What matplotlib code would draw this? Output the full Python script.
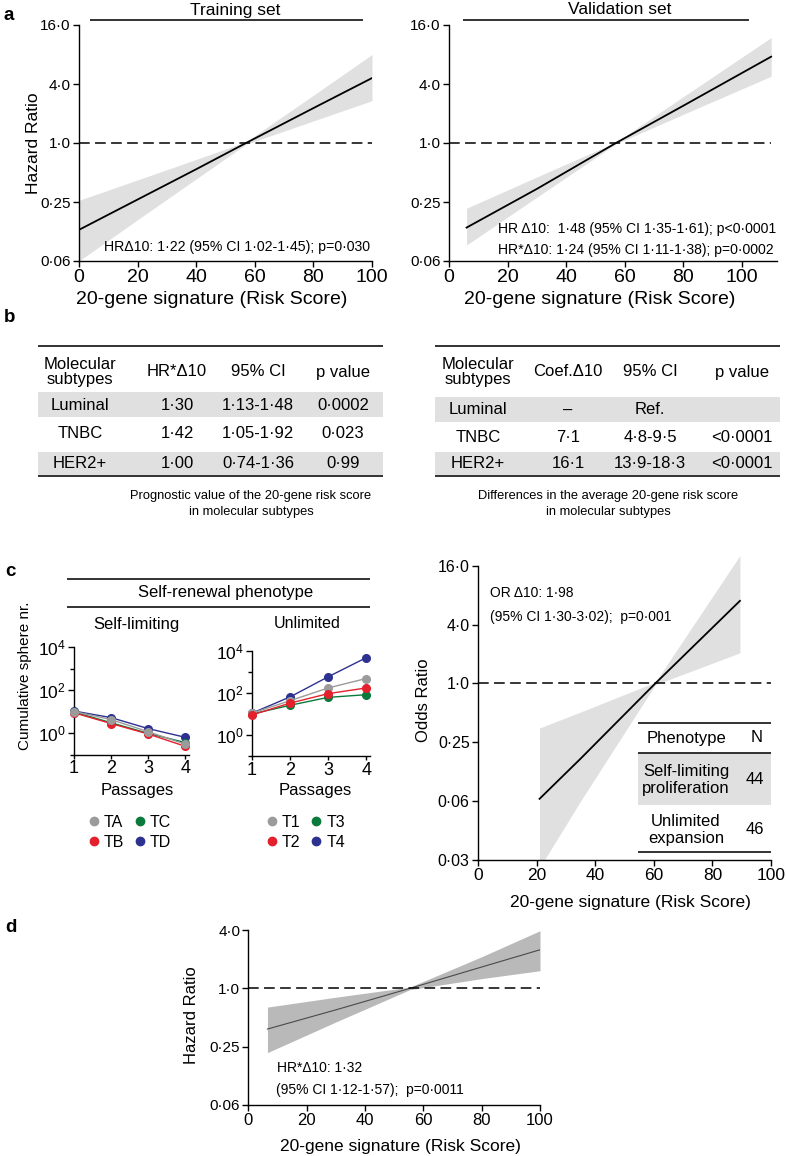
import numpy as np
import matplotlib.pyplot as plt
from matplotlib.lines import Line2D
from matplotlib.patches import Rectangle
from matplotlib.ticker import NullLocator

plt.rcParams['font.family'] = ['Liberation Sans', 'DejaVu Sans']
plt.rcParams['mathtext.fontset'] = 'custom'
plt.rcParams['mathtext.rm'] = 'Liberation Sans'
plt.rcParams['mathtext.default'] = 'regular'
plt.rcParams['axes.linewidth'] = 1.0

# --- data: panel a ---
train_x = [0, 20, 40, 57, 80, 100]
train_hr = [0.13, 0.265, 0.54, 1.0, 2.27, 4.6]
train_lo = [0.0625, 0.165, 0.43, 0.97, 1.68, 2.7]
train_hi = [0.26, 0.42, 0.68, 1.03, 3.07, 8.0]

val_x = [6, 30, 57, 80, 110]
val_hr = [0.137, 0.34, 1.0, 2.4, 7.6]
val_lo = [0.091, 0.28, 0.98, 1.96, 4.8]
val_hi = [0.216, 0.45, 1.02, 2.97, 11.9]

hr_ticks = [0.0625, 0.25, 1.0, 4.0, 16.0]
hr_ticklabels = ['0·06', '0·25', '1·0', '4·0', '16·0']
score_ticks = [0, 20, 40, 60, 80, 100]

# --- data: panel b ---
subtypes = ['Luminal', 'TNBC', 'HER2+']
prog_cols = ['Molecular\nsubtypes', 'HR*Δ10', '95% CI', 'p value']
prog_hr = ['1·30', '1·42', '1·00']
prog_ci = ['1·13-1·48', '1·05-1·92', '0·74-1·36']
prog_p = ['0·0002', '0·023', '0·99']
diff_cols = ['Molecular\nsubtypes', 'Coef.Δ10', '95% CI', 'p value']
diff_coef = ['–', '7·1', '16·1']
diff_ci = ['Ref.', '4·8-9·5', '13·9-18·3']
diff_p = ['', '<0·0001', '<0·0001']

# --- data: panel c ---
passages = [1, 2, 3, 4]
selflim = {
    'TD': [10.5, 5.2, 1.6, 0.63],
    'TC': [9.5, 3.0, 0.96, 0.36],
    'TB': [8.7, 2.75, 0.9, 0.24],
    'TA': [10.0, 4.2, 1.15, 0.30],
}
unlim = {
    'T4': [11.0, 65.0, 590.0, 4800.0],
    'T3': [10.0, 26.0, 62.0, 83.0],
    'T1': [11.0, 43.0, 174.0, 490.0],
    'T2': [9.0, 33.0, 93.0, 174.0],
}
line_colors = {'TA': '#9b9b9b', 'TB': '#e3202c', 'TC': '#0a7a3c', 'TD': '#2d3190',
               'T1': '#9b9b9b', 'T2': '#e3202c', 'T3': '#0a7a3c', 'T4': '#2d3190'}

or_x = [21, 35, 60.5, 89.4]
or_est = [0.066, 0.17, 1.0, 7.0]
or_lo = [0.013, 0.0625, 0.97, 2.06]
or_hi = [0.35, 0.51, 1.03, 20.4]
or_ticks = [2 ** -6, 0.0625, 0.25, 1.0, 4.0, 16.0]
or_ticklabels = ['0·03', '0·06', '0·25', '1·0', '4·0', '16·0']
pheno_names = ['Self-limiting\nproliferation', 'Unlimited\nexpansion']
pheno_n = [44, 46]

# --- data: panel d ---
d_x = [6.5, 30, 55.4, 80, 100]
d_hr = [0.38, 0.60, 1.0, 1.66, 2.5]
d_lo = [0.217, 0.45, 0.97, 1.26, 1.52]
d_hi = [0.64, 0.81, 1.03, 2.12, 3.93]
d_ticks = [0.0625, 0.25, 1.0, 4.0]
d_ticklabels = ['0·06', '0·25', '1·0', '4·0']

W, H = 786, 1156
fig = plt.figure(figsize=(W / 100, H / 100), dpi=100)


def add_ax(l, t, r, b, **kw):
    ax = fig.add_axes([l / W, 1 - b / H, (r - l) / W, (b - t) / H], **kw)
    ax._box = (l, t, r, b)
    return ax


def pos(ax, x, y):
    l, t, r, b = ax._box
    return (x - l) / (r - l), (b - y) / (b - t)


def style(ax, size):
    for s in ['top', 'right']:
        ax.spines[s].set_visible(False)
    ax.tick_params(direction='out', length=4, width=1.0, labelsize=size, pad=2)


def log2_axis(ax, ticks, labels, size):
    ax.set_yscale('log', base=2)
    ax.set_yticks(ticks)
    ax.set_yticklabels(labels, fontsize=size)
    ax.yaxis.set_minor_locator(NullLocator())


def set_labels(ax, xl, xpos, yl, ypos, xs, ys):
    ax.set_xlabel(xl, fontsize=xs)
    ax.xaxis.set_label_coords(*pos(ax, *xpos))
    ax.xaxis.label.set_va('center')
    ax.set_ylabel(yl, fontsize=ys)
    ax.yaxis.set_label_coords(*pos(ax, *ypos))
    ax.yaxis.label.set_va('center')


DASH = (0, (7, 3.5))
BAND = '#e0e0e0'

# ---------------- panel a ----------------
ax_tr = add_ax(79, 25, 372, 261)
ax_tr.fill_between(train_x, train_lo, train_hi, color=BAND, lw=0)
ax_tr.plot(train_x, train_hr, color='k', lw=1.3)
ax_tr.axhline(1.0, color='k', lw=1.1, ls=DASH)
log2_axis(ax_tr, hr_ticks, hr_ticklabels, 11)
ax_tr.set_ylim(0.0625, 16)
ax_tr.set_xlim(0, 100)
ax_tr.set_xticks(score_ticks)
style(ax_tr, 11)
ax_tr.tick_params(axis='x', labelsize=14)
set_labels(ax_tr, '20-gene signature (Risk Score)', (212, 300),
           'Hazard Ratio', (33, 143), 14, 12.5)
ax_tr.text(*pos(ax_tr, 370, 247), 'HRΔ10: 1·22 (95% CI 1·02-1·45); p=0·030',
           transform=ax_tr.transAxes, ha='right', va='center', fontsize=10.2)

ax_va = add_ax(449, 25, 777, 261)
ax_va.fill_between(val_x, val_lo, val_hi, color=BAND, lw=0)
ax_va.plot(val_x, val_hr, color='k', lw=1.3)
ax_va.hlines(1.0, 0, 110, color='k', lw=1.1, ls=DASH)
log2_axis(ax_va, hr_ticks, hr_ticklabels, 11)
ax_va.set_ylim(0.0625, 16)
ax_va.set_xlim(0, 112)
ax_va.set_xticks(score_ticks)
style(ax_va, 11)
ax_va.tick_params(axis='x', labelsize=14)
ax_va.set_xlabel('20-gene signature (Risk Score)', fontsize=14)
ax_va.xaxis.set_label_coords(*pos(ax_va, 600, 300))
ax_va.xaxis.label.set_va('center')
ax_va.text(*pos(ax_va, 498, 229), 'HR Δ10:  1·48 (95% CI 1·35-1·61); p<0·0001',
           transform=ax_va.transAxes, ha='left', va='center', fontsize=10.1)
ax_va.text(*pos(ax_va, 498, 250), 'HR*Δ10: 1·24 (95% CI 1·11-1·38); p=0·0002',
           transform=ax_va.transAxes, ha='left', va='center', fontsize=10.1)


# ---------------- panel c: sphere curves ----------------
def sphere_axes(box, series):
    ax = add_ax(*box)
    for name, vals in series.items():
        ax.plot(passages, vals, color=line_colors[name], lw=1.0, marker='o',
                ms=5.5, mec=line_colors[name], clip_on=False, zorder=3)
    ax.set_yscale('log')
    ax.set_ylim(0.1, 1e4)
    ax.set_yticks([1, 1e2, 1e4])
    ax.set_yticklabels(['$10^{0}$', '$10^{2}$', '$10^{4}$'])
    ax.set_yticks([1e-1, 1e1, 1e3], minor=True)
    ax.yaxis.set_minor_formatter(plt.NullFormatter())
    ax.set_xlim(1, 4.1)
    ax.set_xticks(passages)
    style(ax, 12.5)
    ax.tick_params(axis='x', labelsize=13, length=3, pad=1)
    ax.tick_params(which='minor', direction='out', length=3, width=1.0)
    ax.set_xlabel('Passages', fontsize=12)
    ax.xaxis.label.set_va('center')
    return ax


ax_sl = sphere_axes((74, 647, 189, 754.5), selflim)
ax_sl.xaxis.set_label_coords(*pos(ax_sl, 137, 790))
ax_sl.set_ylabel('Cumulative sphere nr.', fontsize=11)
ax_sl.yaxis.set_label_coords(*pos(ax_sl, 25, 676))
ax_sl.yaxis.label.set_va('center')

ax_ul = sphere_axes((252, 651, 370, 756), unlim)
ax_ul.xaxis.set_label_coords(*pos(ax_ul, 315, 790))


def dot_legend(ax, names, x_px, y_px):
    handles = [Line2D([], [], ls='none', marker='o', ms=6, color=line_colors[n]) for n in names]
    ax.legend(handles, names, ncol=2, loc='upper left', frameon=False,
              bbox_to_anchor=(x_px / W, 1 - y_px / H), bbox_transform=fig.transFigure,
              fontsize=11.5, handlelength=0.7, handletextpad=0.3, columnspacing=0.6,
              labelspacing=0.3, borderpad=0, borderaxespad=0)


dot_legend(ax_sl, ['TA', 'TB', 'TC', 'TD'], 88, 815)
dot_legend(ax_ul, ['T1', 'T2', 'T3', 'T4'], 266, 815)

# ---------------- panel c: odds ratio ----------------
ax_or = add_ax(478, 554, 771, 860)
ax_or.fill_between(or_x, or_lo, or_hi, color=BAND, lw=0)
ax_or.plot(or_x, or_est, color='k', lw=1.3)
ax_or.axhline(1.0, color='k', lw=1.1, ls=DASH)
log2_axis(ax_or, or_ticks, or_ticklabels, 11.5)
ax_or.set_ylim(2 ** -6, 2 ** 4.4)
ax_or.spines['left'].set_bounds(2 ** -6, 16)
ax_or.set_xlim(0, 100)
ax_or.set_xticks(score_ticks)
style(ax_or, 11.5)
ax_or.tick_params(axis='x', labelsize=12.5)
set_labels(ax_or, '20-gene signature (Risk Score)', (630, 903),
           'Odds Ratio', (423, 700), 12.5, 12)
ax_or.text(*pos(ax_or, 490, 593), 'OR Δ10: 1·98', transform=ax_or.transAxes,
           ha='left', va='center', fontsize=10)
ax_or.text(*pos(ax_or, 490, 617), '(95% CI 1·30-3·02);  p=0·001', transform=ax_or.transAxes,
           ha='left', va='center', fontsize=10)

# ---------------- panel d ----------------
ax_d = add_ax(248.5, 930, 540, 1105)
ax_d.fill_between(d_x, d_lo, d_hi, color='#b9b9b9', lw=0)
ax_d.plot(d_x, d_hr, color='#4a4a4a', lw=0.8)
ax_d.axhline(1.0, color='k', lw=1.1, ls=DASH)
log2_axis(ax_d, d_ticks, d_ticklabels, 11)
ax_d.set_ylim(0.0625, 4)
ax_d.set_xlim(0, 100)
ax_d.set_xticks(score_ticks)
style(ax_d, 11)
ax_d.tick_params(axis='x', labelsize=12)
set_labels(ax_d, '20-gene signature (Risk Score)', (400, 1147),
           'Hazard Ratio', (192, 1015), 12.5, 12)
ax_d.text(*pos(ax_d, 277, 1068), 'HR*Δ10: 1·32', transform=ax_d.transAxes,
          ha='left', va='center', fontsize=10)
ax_d.text(*pos(ax_d, 276, 1090), '(95% CI 1·12-1·57);  p=0·0011', transform=ax_d.transAxes,
          ha='left', va='center', fontsize=10)

# ---------------- overlay: titles, tables, panel letters ----------------
cv = add_ax(0, 0, W, H, zorder=10)
cv.set_xlim(0, W)
cv.set_ylim(H, 0)
cv.axis('off')
cv.patch.set_alpha(0)


def rule(x0, x1, y, lw=1.3):
    cv.plot([x0, x1], [y, y], color='#222222', lw=lw, solid_capstyle='butt')


def band(x0, x1, y0, y1):
    cv.add_patch(Rectangle((x0, y0), x1 - x0, y1 - y0, color=BAND, lw=0, zorder=0))


for lab, (x, y) in zip('abcd', [(4, 15), (4, 318), (5, 571), (5, 927)]):
    cv.text(x, y, lab, fontsize=13.5, fontweight='bold', va='center', ha='left')

cv.text(235, 14.5, 'Training set', fontsize=12.5, ha='center', va='baseline')
rule(90, 363, 20)
cv.text(620, 14.5, 'Validation set', fontsize=12.5, ha='center', va='baseline')
rule(463, 749, 20)


def table(x0, x1, cols, colx, bands, rows_y, cells, caption, capx):
    rule(x0, x1, 346)
    for (ya, yb) in bands:
        band(x0, x1, ya, yb)
    for txt, cx in zip(cols, colx):
        cv.text(cx, 372, txt, fontsize=12, ha='center', va='center', linespacing=1.0)
    for j, col in enumerate(cells):
        for i, txt in enumerate(col):
            cv.text(colx[j], rows_y[i], txt, fontsize=12, ha='center', va='center')
    rule(x0, x1, 476)
    cv.text(capx, 504, caption, fontsize=9.3, ha='center', va='center', linespacing=1.4)


table(38, 383, prog_cols, [80, 177, 258, 343], [(392, 417), (452, 475)],
      [405, 434, 463], [subtypes, prog_hr, prog_ci, prog_p],
      'Prognostic value of the 20-gene risk score\nin molecular subtypes', 251)
table(435, 780, diff_cols, [478, 568, 650, 742], [(397, 422), (452, 475)],
      [410, 437, 463], [subtypes, diff_coef, diff_ci, diff_p],
      'Differences in the average 20-gene risk score\nin molecular subtypes', 608)

# panel c headings
rule(67, 370, 579)
cv.text(226, 593, 'Self-renewal phenotype', fontsize=12, ha='center', va='center')
rule(67, 370, 607)
cv.text(136, 624, 'Self-limiting', fontsize=12, ha='center', va='center')
cv.text(307, 624, 'Unlimited', fontsize=11.5, ha='center', va='center')

# phenotype table
rule(638, 771, 723)
cv.text(687, 738, 'Phenotype', fontsize=12, ha='center', va='center')
cv.text(757, 738, 'N', fontsize=12, ha='center', va='center')
rule(638, 771, 753)
band(638, 771, 753, 805)
for name, n, yc in zip(pheno_names, pheno_n, [780, 830]):
    cv.text(686, yc, name, fontsize=12, ha='center', va='center', linespacing=1.1)
    cv.text(755, yc, str(n), fontsize=12, ha='center', va='center')
rule(638, 771, 852)

fig.savefig('out.png', dpi=100)
